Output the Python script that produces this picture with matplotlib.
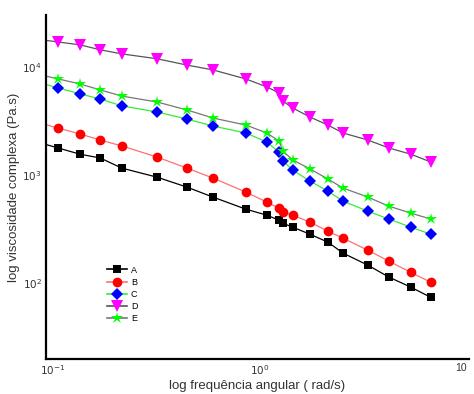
import numpy as np
import matplotlib.pyplot as plt
from matplotlib.ticker import NullLocator

plt.rcParams['font.family'] = ['Liberation Sans', 'DejaVu Sans']

# angular frequency (rad/s)
freq = [0.106, 0.135, 0.169, 0.215, 0.318, 0.444, 0.593, 0.855, 1.08, 1.236,
        1.29, 1.44, 1.745, 2.13, 2.52, 3.32, 4.2, 5.36, 6.7]

# complex viscosity (Pa.s)
visc_a = [1780, 1560, 1440, 1160, 957, 774, 626, 484, 426, 383,
          359, 330, 284, 240, 190, 147, 114, 92, 74]
visc_b = [2720, 2400, 2110, 1860, 1470, 1160, 938, 697, 562, 495,
          454, 426, 367, 303, 261, 202, 160, 126, 102]
visc_c = [6400, 5630, 5060, 4360, 3830, 3300, 2840, 2450, 2020, 1630,
          1350, 1110, 880, 711, 574, 464, 392, 330, 284]
visc_d = [17000, 16000, 14400, 13200, 11900, 10400, 9380, 7740, 6530, 5750,
          4840, 4170, 3440, 2900, 2450, 2110, 1780, 1560, 1320]
visc_e = [7740, 6960, 6130, 5380, 4740, 4000, 3370, 2900, 2450, 2060,
          1670, 1380, 1140, 919, 759, 626, 516, 445, 392]

labels = ['A', 'B', 'C', 'D', 'E']
xticks = [0.1, 1, 10]
xticklabels = ['$10^{-1}$', '$10^{0}$', '10']
yticks = [100, 1000, 10000]
yticklabels = ['$10^{2}$', '$10^{3}$', '$10^{4}$']

series = [visc_a, visc_b, visc_c, visc_d, visc_e]
markers = ['s', 'o', 'D', 'v', '*']
marker_colors = ['black', 'red', 'blue', 'magenta', 'lime']
line_colors = ['black', '#ff7070', '#33ee33', '#555555', '#777777']
msizes = [6, 7, 6.5, 8, 9]

xmin, xmax = 10 ** -1.034, 10 ** 1.01

fig = plt.figure(figsize=(4.74, 3.94), dpi=100)
ax = fig.add_axes([46 / 474, 1 - 359 / 394, 423 / 474, 344 / 394])

for lab, y, m, mc, lc, ms in zip(labels, series, markers, marker_colors, line_colors, msizes):
    x = np.array(freq)
    y = np.array(y, dtype=float)
    # extend the line back to the left axis edge (log-linear from first two points)
    lx, ly = np.log10(x), np.log10(y)
    slope = (ly[1] - ly[0]) / (lx[1] - lx[0])
    y0 = 10 ** (ly[0] + slope * (np.log10(xmin) - lx[0]))
    ax.plot(np.r_[xmin, x], np.r_[y0, y], '-', color=lc, lw=0.9, zorder=2)
    ax.plot(x, y, linestyle='none', marker=m, color=mc, markersize=ms,
            markeredgewidth=0, zorder=3)
    ax.plot([], [], '-', color=lc, lw=1.2, marker=m, markerfacecolor=mc,
            markeredgewidth=0, markersize=ms, label=lab)

ax.set_xscale('log')
ax.set_yscale('log')
ax.set_xlim(xmin, xmax)
ax.set_ylim(10 ** 1.30, 10 ** 4.48)

ax.set_xticks(xticks, xticklabels)
ax.set_yticks(yticks, yticklabels)
ax.xaxis.set_minor_locator(NullLocator())
ax.yaxis.set_minor_locator(NullLocator())
ax.tick_params(length=0, labelsize=7.5, colors='#333333', pad=3)
ax.get_xticklabels()[-1].set_horizontalalignment('right')

for s in ['top', 'right']:
    ax.spines[s].set_visible(False)
for s in ['left', 'bottom']:
    ax.spines[s].set_linewidth(1.6)

ax.set_xlabel('log frequência angular ( rad/s)', fontsize=9.5, color='#333333', labelpad=2)
ax.set_ylabel('log viscosidade complexa (Pa.s)', fontsize=9.5, color='#333333', labelpad=2)

ax.legend(loc='upper left', bbox_to_anchor=(0.13, 0.29), frameon=False,
          fontsize=6.5, handlelength=2.2, labelspacing=0.35, handletextpad=0.4,
          borderpad=0.2)

fig.savefig('out.png', dpi=100)
